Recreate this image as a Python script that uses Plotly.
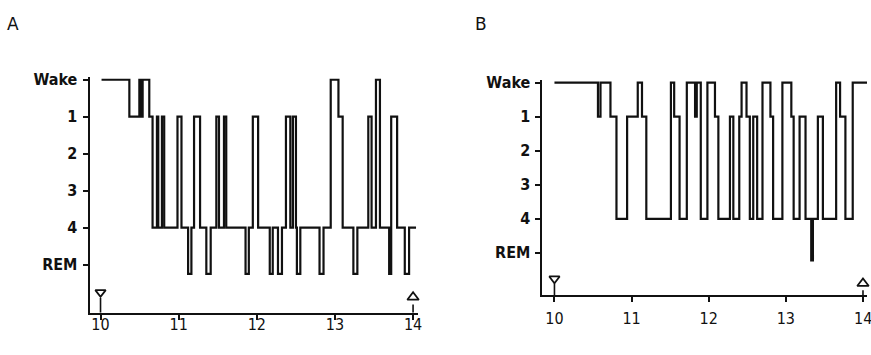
import plotly.graph_objects as go

# ---------------- data ----------------
STAGE_LABELS = ["Wake", "1", "2", "3", "4", "REM"]
STAGE_TICKS = [0, 1, 2, 3, 4, 5]
X_TICKS = [10, 11, 12, 13, 14]
LIGHTS_OFF = 10.0
LIGHTS_ON = 14.0

# Panel A hypnogram (clock hour of each stage change, stage entered)
times_a = [10.013, 10.369, 10.497, 10.520, 10.539, 10.624, 10.666, 10.722, 10.739, 10.786,
           10.815, 10.985, 11.036, 11.121, 11.163, 11.197, 11.274, 11.354, 11.410, 11.482,
           11.516, 11.580, 11.609, 11.856, 11.898, 11.949, 12.017, 12.166, 12.204, 12.271,
           12.322, 12.373, 12.429, 12.462, 12.501, 12.513, 12.557, 12.803, 12.854, 12.946,
           13.045, 13.099, 13.236, 13.287, 13.427, 13.469, 13.525, 13.576, 13.694, 13.720,
           13.796, 13.894, 13.949, 14.038]
stages_a = ["W", "1", "W", "1", "W", "1", "4", "1", "4", "1",
            "4", "1", "4", "R", "4", "1", "4", "R", "4", "1",
            "4", "1", "4", "R", "4", "1", "4", "R", "4", "R",
            "4", "1", "4", "1", "4", "R", "4", "R", "4", "W",
            "1", "4", "R", "4", "1", "4", "W", "4", "R", "1",
            "4", "R", "4", "4"]

# Panel B hypnogram
times_b = [10.0, 10.564, 10.597, 10.726, 10.804, 10.942, 11.080, 11.135, 11.191, 11.510,
           11.552, 11.622, 11.716, 11.823, 11.845, 11.897, 11.983, 12.081, 12.125, 12.275,
           12.319, 12.396, 12.426, 12.490, 12.533, 12.577, 12.628, 12.697, 12.800, 12.835,
           12.955, 13.071, 13.101, 13.178, 13.255, 13.329, 13.351, 13.415, 13.480, 13.652,
           13.703, 13.772, 13.867, 14.052]
stages_b = ["W", "1", "W", "1", "4", "1", "W", "1", "4", "W",
            "1", "4", "W", "1", "W", "4", "W", "1", "4", "1",
            "4", "1", "W", "1", "4", "1", "4", "W", "1", "4",
            "W", "1", "4", "1", "4", "R", "4", "1", "4", "W",
            "1", "4", "W", "W"]

# REM episodes are drawn slightly below the REM tick, as in the original
stage_y_a = {"W": 0, "1": 1, "2": 2, "3": 3, "4": 4, "R": 5.25}
stage_y_b = {"W": 0, "1": 1, "2": 2, "3": 3, "4": 4, "R": 5.22}

assert len(times_a) == len(stages_a) and len(times_b) == len(stages_b)

INK = "#111111"
FONT = "DejaVu Sans Condensed, Liberation Sans Narrow, DejaVu Sans, sans-serif"

fig = go.Figure()

fig.add_trace(go.Scatter(x=times_a, y=[stage_y_a[s] for s in stages_a], mode="lines",
                         line=dict(shape="hv", color=INK, width=2.2),
                         xaxis="x", yaxis="y", showlegend=False, hoverinfo="skip"))
fig.add_trace(go.Scatter(x=times_b, y=[stage_y_b[s] for s in stages_b], mode="lines",
                         line=dict(shape="hv", color=INK, width=2.2),
                         xaxis="x2", yaxis="y2", showlegend=False, hoverinfo="skip"))


def lights(xa, ya, y_tri_off, y_tri_on, y_axis_bottom, stem_top_off, stem_top_on):
    fig.add_trace(go.Scatter(x=[LIGHTS_OFF, LIGHTS_OFF, None, LIGHTS_ON, LIGHTS_ON],
                             y=[stem_top_off, y_axis_bottom, None, stem_top_on, y_axis_bottom],
                             mode="lines", line=dict(color=INK, width=1.6),
                             xaxis=xa, yaxis=ya, showlegend=False, hoverinfo="skip"))
    fig.add_trace(go.Scatter(x=[LIGHTS_OFF], y=[y_tri_off], mode="markers",
                             marker=dict(symbol="triangle-down-open", size=9, color=INK,
                                         line=dict(color=INK, width=1.8)),
                             xaxis=xa, yaxis=ya, showlegend=False, hoverinfo="skip",
                             cliponaxis=False))
    fig.add_trace(go.Scatter(x=[LIGHTS_ON], y=[y_tri_on], mode="markers",
                             marker=dict(symbol="triangle-up-open", size=10, color=INK,
                                         line=dict(color=INK, width=1.8)),
                             xaxis=xa, yaxis=ya, showlegend=False, hoverinfo="skip",
                             cliponaxis=False))


lights("x", "y", 5.75, 5.88, 6.3, 5.9, 6.08)
lights("x2", "y2", 5.76, 5.9, 6.24, 5.9, 6.1)

tickfont_y = dict(family=FONT, size=16, color=INK, weight="bold")
tickfont_x = dict(family=FONT, size=16, color=INK)

common_x = dict(showgrid=False, zeroline=False, showline=True, linecolor=INK, linewidth=2,
                ticks="outside", tickcolor=INK, tickwidth=1.5, ticklen=5,
                tickfont=tickfont_x)
common_y = dict(showgrid=False, zeroline=False, showline=True, linecolor=INK, linewidth=2,
                ticks="outside", tickcolor=INK, tickwidth=1.5, ticklen=5,
                tickvals=STAGE_TICKS, ticktext=STAGE_LABELS, tickfont=tickfont_y)

W, H = 871, 355
X2_RANGE = [9.845, 14.052]
fig.update_layout(
    width=W, height=H, margin=dict(l=0, r=0, t=0, b=0),
    paper_bgcolor="white", plot_bgcolor="white",
    xaxis=dict(domain=[90 / W, 420 / W], range=[9.86, 14.064], anchor="y",
               tickvals=X_TICKS, ticktext=[str(v) for v in X_TICKS],
               ticklabelstandoff=-9, **common_x),
    yaxis=dict(domain=[(H - 312) / H, (H - 72) / H], range=[6.30, -0.08], anchor="x",
               ticklabelstandoff=2, **common_y),
    # last label of panel B runs off the page edge; drawn as annotation below
    xaxis2=dict(domain=[545 / W, 1.0], range=X2_RANGE, anchor="y2",
                tickvals=X_TICKS, ticktext=[str(v) if v < 14 else "" for v in X_TICKS],
                ticklabelstandoff=3, **common_x),
    yaxis2=dict(domain=[(H - 294) / H, (H - 75) / H], range=[6.24, -0.087], anchor="x2",
                ticklabelstandoff=2, **common_y),
    annotations=[
        dict(text="A", x=13 / W, y=1 - 18 / H, xref="paper", yref="paper", showarrow=False,
             xanchor="center", yanchor="middle",
             font=dict(family="DejaVu Sans, sans-serif", size=17, color=INK)),
        dict(text="B", x=483 / W, y=1 - 18 / H, xref="paper", yref="paper", showarrow=False,
             xanchor="center", yanchor="middle",
             font=dict(family="DejaVu Sans, sans-serif", size=17, color=INK)),
        dict(text=str(X_TICKS[-1]), x=X_TICKS[-1], xref="x2", y=1 - 318 / H, yref="paper",
             showarrow=False, xanchor="center", yanchor="middle", font=tickfont_x),
    ],
)

fig.write_html("out.html")
